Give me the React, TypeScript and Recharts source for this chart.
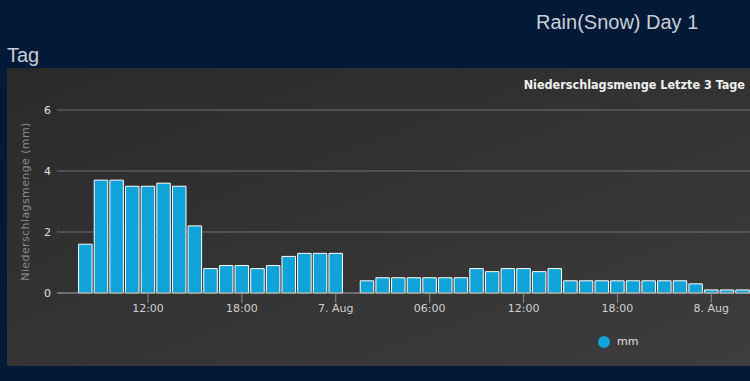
import React from 'react'
import { BarChart, Bar, XAxis, YAxis, CartesianGrid, Legend } from 'recharts'

// Stunden seit 6. Aug 00:00
const hours = [
  8, 9, 10, 11, 12, 13, 14, 15, 16, 17, 18, 19, 20, 21, 22, 23, 24, 25, 26, 27, 28, 29,
  30, 31, 32, 33, 34, 35, 36, 37, 38, 39, 40, 41, 42, 43, 44, 45, 46, 47, 48, 49, 50,
]
const rain = [
  1.6, 3.7, 3.7, 3.5, 3.5, 3.6, 3.5, 2.2, 0.8, 0.9, 0.9, 0.8, 0.9, 1.2, 1.3, 1.3, 1.3, null, 0.4, 0.5, 0.5, 0.5,
  0.5, 0.5, 0.5, 0.8, 0.7, 0.8, 0.8, 0.7, 0.8, 0.4, 0.4, 0.4, 0.4, 0.4, 0.4, 0.4, 0.4, 0.3, 0.1, 0.1, 0.1,
]
const tickHours = [12, 18, 24, 30, 36, 42, 48]
const tickLabels = ['12:00', '18:00', '7. Aug', '06:00', '12:00', '18:00', '8. Aug']
const yTicks = [0, 2, 4, 6]

const data = hours.map((h, i) => ({ h, mm: rain[i] }))

const FONT = '"DejaVu Sans", sans-serif'

const LegendContent = () => (
  <div style={{ display: 'flex', alignItems: 'center', fontFamily: FONT, fontSize: 11, color: '#e0e0e0' }}>
    <span style={{ width: 12, height: 12, borderRadius: 6, background: '#10a3d8', display: 'inline-block', marginRight: 7 }} />
    <span>mm</span>
  </div>
)

export default function App() {
  return (
    <div style={{ position: 'fixed', inset: 0, background: '#021a38', overflow: 'hidden' }}>
      <div style={{ position: 'absolute', left: 536, top: 11, fontFamily: '"Liberation Sans", Arial, sans-serif', fontSize: 20, color: '#c9ced6', whiteSpace: 'nowrap' }}>
        Rain(Snow) Day 1
      </div>
      <div style={{ position: 'absolute', left: 7, top: 44, fontFamily: '"Liberation Sans", Arial, sans-serif', fontSize: 20, color: '#c9ced6' }}>
        Tag
      </div>
      <div
        style={{
          position: 'absolute', left: 7, top: 68, width: 760, height: 298,
          background: 'linear-gradient(160deg, #2a2a2a 0%, #3d3d3d 100%)',
        }}
      >
        <div style={{ position: 'absolute', right: 22, top: 9, fontFamily: '"DejaVu Sans Condensed", sans-serif', fontWeight: 'bold', fontSize: 12.5, color: '#f0f0f0', whiteSpace: 'nowrap' }}>
          Niederschlagsmenge Letzte 3 Tage
        </div>
        <BarChart width={760} height={298} data={data} margin={{ top: 42, right: 17, left: 0, bottom: 30 }}>
          <CartesianGrid vertical={false} stroke="#707070" horizontalValues={yTicks} />
          <XAxis
            dataKey="h"
            type="number"
            domain={[6.185, 50.47]}
            allowDataOverflow
            ticks={tickHours}
            tickFormatter={(v: number) => tickLabels[tickHours.indexOf(v)]}
            tickSize={10}
            tickMargin={1}
            height={30}
            stroke="#8a8a8a"
            tick={{ fill: '#d0d0d0', fontSize: 11, fontFamily: FONT }}
          />
          <YAxis
            domain={[0, 6]}
            ticks={yTicks}
            width={50}
            axisLine={false}
            tickLine={false}
            tickSize={0}
            tickMargin={6}
            tick={{ fill: '#e0e0e0', fontSize: 11, fontFamily: FONT }}
            label={{
              value: 'Niederschlagsmenge (mm)',
              angle: -90,
              position: 'insideLeft',
              offset: 18,
              style: { textAnchor: 'middle', fill: '#8a8a8a', fontSize: 11, fontFamily: FONT, letterSpacing: 0.4 },
            }}
          />
          <Legend
            content={<LegendContent />}
            wrapperStyle={{ position: 'absolute', left: 591, top: 267, width: 'auto' }}
          />
          <Bar dataKey="mm" fill="#10a3d8" stroke="#ffffff" strokeWidth={1} barSize={13.5} isAnimationActive={false} />
        </BarChart>
      </div>
    </div>
  )
}
